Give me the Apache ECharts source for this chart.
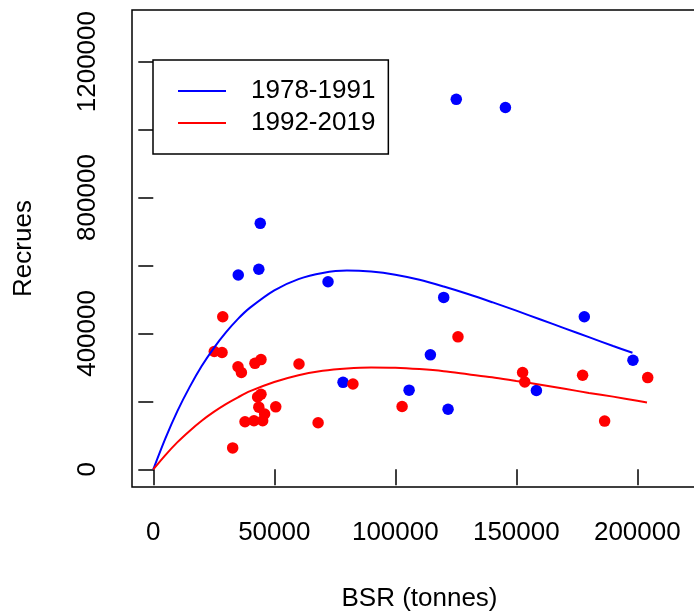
<!DOCTYPE html>
<html>
<head>
<meta charset="utf-8">
<script src="https://cdn.jsdelivr.net/npm/echarts@6/dist/echarts.min.js"></script>
<style>
html,body{margin:0;padding:0;background:#fff;overflow:hidden;}
#chart{width:694px;height:615px;}
</style>
</head>
<body>
<div id="chart"></div>
<script>
// ---- Data ----
const seriesNames = ['1978-1991', '1992-2019'];

// Observed points (BSR in tonnes, Recrues)
const bsr1978 = [44200, 43600, 35100, 72200, 78400, 120000, 114500, 105700, 121800, 158300, 178100, 198200, 125200, 145500];
const rec1978 = [724000, 589000, 572000, 552000, 256000, 506000, 337000, 233000, 177000, 232000, 449000, 321000, 1089000, 1065000];

const bsr1992 = [28700, 25200, 28400, 35000, 36400, 42000, 44500, 60200, 43100, 44500, 43600, 46000, 50600, 37900, 41600, 45200, 68100, 32800, 82500, 125900, 102800, 152600, 153500, 177400, 204300, 186500];
const rec1992 = [449000, 347000, 344000, 302000, 285000, 312000, 323000, 310000, 213000, 221000, 183000, 163000, 184000, 140000, 143000, 143000, 137000, 63000, 251000, 390000, 185000, 285000, 257000, 277000, 270000, 142000];

// Fitted curves
const curveBsr1978 = [0, 5000, 10000, 15000, 20000, 25000, 30000, 35000, 40000, 50000, 60000, 70000, 80000, 90000, 100000, 110000, 120000, 130000, 140000, 150000, 160000, 170000, 180000, 190000, 198000];
const curveRec1978 = [0, 91000, 172000, 242000, 304000, 357000, 403000, 443000, 476000, 527000, 560000, 578000, 585000, 582000, 573000, 558000, 538000, 516000, 492000, 467000, 441000, 415000, 389000, 363000, 343000];

const curveBsr1992 = [0, 5000, 10000, 15000, 20000, 25000, 30000, 35000, 40000, 50000, 60000, 70000, 80000, 90000, 100000, 110000, 120000, 130000, 140000, 150000, 160000, 170000, 180000, 190000, 200000, 204000];
const curveRec1992 = [0, 42000, 80000, 113000, 143000, 169000, 192000, 212000, 230000, 257000, 277000, 290000, 297000, 300000, 299000, 295000, 289000, 280000, 271000, 260000, 249000, 237000, 225000, 214000, 202000, 197000];

// Axis ticks and labels
const xTicks = [0, 50000, 100000, 150000, 200000];
const yTicks = [0, 200000, 400000, 600000, 800000, 1000000, 1200000];
const yLabels = [0, 400000, 800000, 1200000];
const xTitle = 'BSR (tonnes)';
const yTitle = 'Recrues';

// ---- Chart ----
const zip = (a, b) => a.map((v, i) => [v, b[i]]);
const plain = v => String(Math.round(v));
const FONT = 'Liberation Sans, Arial, Helvetica, sans-serif';
const chart = echarts.init(document.getElementById('chart'), null, {renderer: 'canvas'});

chart.setOption({
  animation: false,
  backgroundColor: '#ffffff',
  textStyle: {fontFamily: FONT},
  grid: {
    left: 132, top: 10, width: 575, height: 477,
    containLabel: false,
    outerBoundsMode: 'none',
    show: true, borderColor: '#000', borderWidth: 1.5, backgroundColor: 'transparent'
  },
  legend: {
    data: seriesNames,
    icon: 'rect',
    orient: 'vertical',
    left: 153, top: 60,
    padding: [18, 13, 18, 25],
    borderColor: '#000', borderWidth: 1.5, borderRadius: 0,
    backgroundColor: '#fff',
    itemWidth: 48, itemHeight: 2, itemGap: 6,
    textStyle: {fontFamily: FONT, fontSize: 26, lineHeight: 26, color: '#000', padding: [0, 0, 0, 20]},
    selectedMode: false
  },
  xAxis: {
    type: 'value',
    min: -8800, max: 228800,
    axisLine: {show: false},
    splitLine: {show: false},
    axisTick: {show: true, length: 16, customValues: xTicks, lineStyle: {color: '#000', width: 1.5}},
    axisLabel: {customValues: xTicks, formatter: plain, fontFamily: FONT, fontSize: 26, color: '#000', margin: 33},
    name: xTitle, nameLocation: 'middle', nameGap: 99,
    nameTextStyle: {fontFamily: FONT, fontSize: 26, color: '#000'}
  },
  yAxis: {
    type: 'value',
    min: -52000, max: 1352000,
    axisLine: {show: false},
    splitLine: {show: false},
    axisTick: {show: true, length: 15, customValues: yTicks, lineStyle: {color: '#000', width: 1.5}},
    axisLabel: {customValues: yLabels, formatter: plain, rotate: 90, fontFamily: FONT, fontSize: 26, color: '#000', margin: 31},
    name: yTitle, nameLocation: 'middle', nameGap: 95,
    nameTextStyle: {fontFamily: FONT, fontSize: 26, color: '#000'}
  },
  series: [
    {
      name: 'pts1978', type: 'scatter', data: zip(bsr1978, rec1978),
      symbol: 'circle', symbolSize: 11.5, itemStyle: {color: '#0000ff', opacity: 1}, z: 2
    },
    {
      name: 'pts1992', type: 'scatter', data: zip(bsr1992, rec1992),
      symbol: 'circle', symbolSize: 11.5, itemStyle: {color: '#ff0000', opacity: 1}, z: 3
    },
    {
      name: seriesNames[0], type: 'line', data: zip(curveBsr1978, curveRec1978),
      symbol: 'none', smooth: 0.3, lineStyle: {color: '#0000ff', width: 2}, itemStyle: {color: '#0000ff'}, z: 4
    },
    {
      name: seriesNames[1], type: 'line', data: zip(curveBsr1992, curveRec1992),
      symbol: 'none', smooth: 0.3, lineStyle: {color: '#ff0000', width: 2}, itemStyle: {color: '#ff0000'}, z: 4
    }
  ]
});
</script>
</body>
</html>
